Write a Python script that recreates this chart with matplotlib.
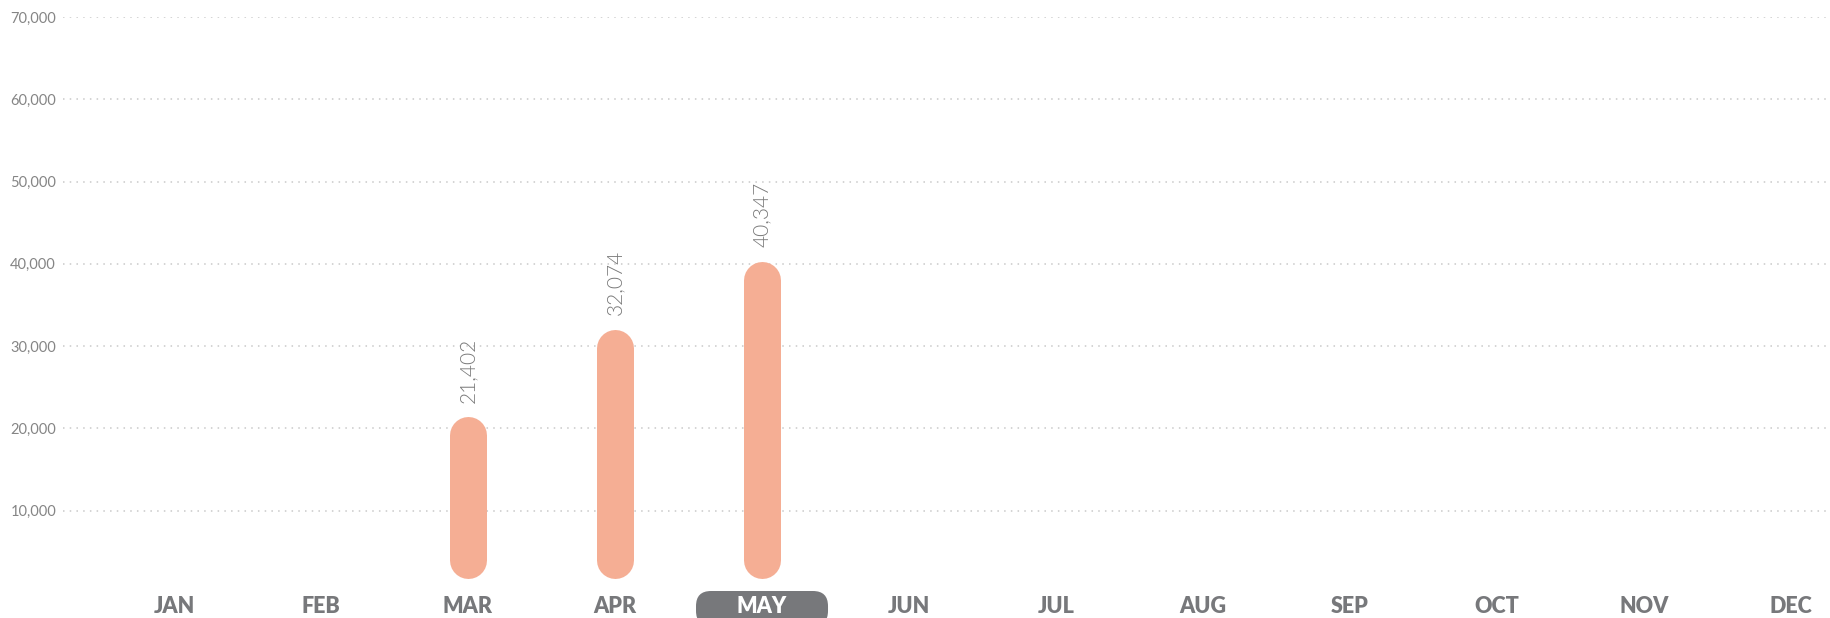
import matplotlib
matplotlib.use('Agg')
import matplotlib.pyplot as plt
from matplotlib.patches import FancyBboxPatch

# data
months = ['JAN', 'FEB', 'MAR', 'APR', 'MAY', 'JUN', 'JUL', 'AUG', 'SEP', 'OCT', 'NOV', 'DEC']
bar_months = ['MAR', 'APR', 'MAY']
bar_values = [21402, 32074, 40347]
y_ticks = [10000, 20000, 30000, 40000, 50000, 60000, 70000]
highlight = 'MAY'

bar_color = '#f5ae94'
text_gray = '#77787b'
grid_gray = '#c9c9c9'

plt.rcParams['font.family'] = ['Lato', 'DejaVu Sans']

fig = plt.figure(figsize=(18.3, 6.18), dpi=100)
ax = fig.add_axes([63 / 1830, 25 / 618, 1 - 63 / 1830, 576 / 618])
ax.set_xlim(-0.755, 11.265)
ax.set_ylim(0, 70000)

for s in ax.spines.values():
    s.set_visible(False)

ax.set_yticks(y_ticks)
ax.set_yticklabels([format(v, ',') for v in y_ticks], fontsize=10.5, color='#858585')
ax.yaxis.grid(True, color=grid_gray, linewidth=1.1, linestyle=(0, (1, 3.4)))
ax.tick_params(axis='y', length=0, pad=5)

ax.set_xticks(range(len(months)))
ax.set_xticklabels(months, fontsize=15.5, fontweight='heavy', color=text_gray)
ax.tick_params(axis='x', length=0, pad=2)

# rounded bars drawn as thick lines with round caps
bar_px = 37
base_px = 15
data_per_px = 70000 / (576)
r = bar_px / 2 * data_per_px
base = base_px * data_per_px
for m, v in zip(bar_months, bar_values):
    x = months.index(m)
    ax.plot([x, x], [base + r, v - r], color=bar_color, linewidth=bar_px * 72 / 100,
            solid_capstyle='round', zorder=3)
    ax.annotate(format(v, ','), (x, v), xytext=(0, 10), textcoords='offset points',
                rotation=90, ha='center', va='bottom', fontsize=15,
                fontweight=300, color='#7a7a7a')

# highlighted month pill
fig.canvas.draw()
for lab in ax.get_xticklabels():
    if lab.get_text() == highlight:
        lab.set_color('white')
        bb = lab.get_window_extent()
        cx = (bb.x0 + bb.x1) / 2
        pill = FancyBboxPatch((cx - 66, -8), 132, 35,
                              boxstyle='round,pad=0,rounding_size=15',
                              transform=None, facecolor=text_gray, edgecolor='none',
                              zorder=0.5, clip_on=False)
        ax.add_artist(pill)

fig.savefig('out.png', dpi=100)
